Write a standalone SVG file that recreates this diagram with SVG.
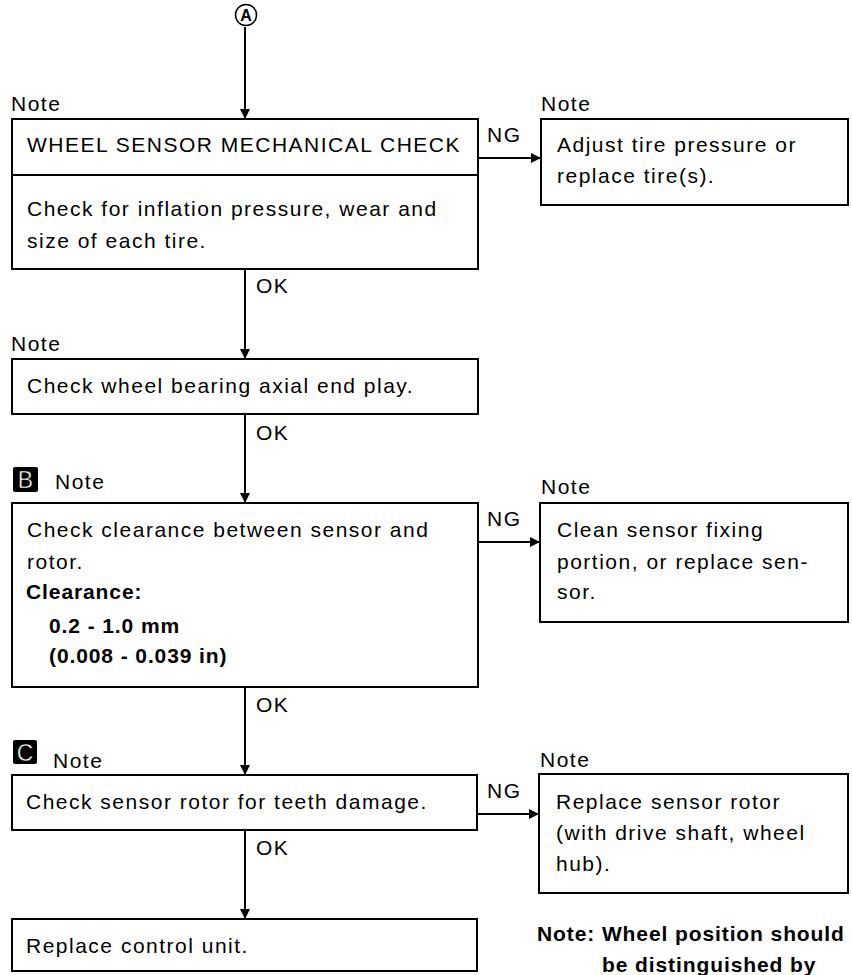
<svg xmlns="http://www.w3.org/2000/svg" width="852" height="975" viewBox="0 0 852 975">
<style>
.bg{fill:#fff}
.box{fill:#fff;stroke:#000;stroke-width:2}
.t{font-family:"Liberation Sans",Arial,sans-serif;font-size:21px;letter-spacing:1.5px;fill:#000}
.b{font-weight:bold;letter-spacing:0.9px}
.conn{stroke:#000;stroke-width:2;fill:none}
.badge{fill:#000}
.bt{font-family:"Liberation Sans",Arial,sans-serif;font-size:23px;fill:#fff;stroke:#000;stroke-width:0.5;text-anchor:middle}
</style>
<defs>
<marker id="ah" markerWidth="10" markerHeight="10" refX="9" refY="5" orient="auto" markerUnits="userSpaceOnUse">
<path d="M0,0 L10,5 L0,10 Z" fill="#000"/>
</marker>
</defs>
<rect class="bg" x="0" y="0" width="852" height="975"/>

<g id="connectors">
<path class="conn" d="M245,27 V118" marker-end="url(#ah)"/>
<path class="conn" d="M245,269 V358" marker-end="url(#ah)"/>
<path class="conn" d="M245,414 V502" marker-end="url(#ah)"/>
<path class="conn" d="M245,687 V774" marker-end="url(#ah)"/>
<path class="conn" d="M245,830 V918" marker-end="url(#ah)"/>
<path class="conn" d="M478,158 H540" marker-end="url(#ah)"/>
<path class="conn" d="M478,542 H539" marker-end="url(#ah)"/>
<path class="conn" d="M477,814 H538" marker-end="url(#ah)"/>
<text class="t" x="256" y="293">OK</text>
<text class="t" x="256" y="440">OK</text>
<text class="t" x="256" y="712">OK</text>
<text class="t" x="256" y="855">OK</text>
<text class="t" x="487" y="142" letter-spacing="0.5">NG</text>
<text class="t" x="487" y="526" letter-spacing="0.5">NG</text>
<text class="t" x="487" y="798" letter-spacing="0.5">NG</text>
</g>

<g id="startA">
<circle cx="246" cy="15" r="10.5" fill="#fff" stroke="#000" stroke-width="1.5"/>
<text x="246" y="21" font-family="Liberation Sans,Arial,sans-serif" font-size="16" font-weight="bold" text-anchor="middle">A</text>
</g>

<g id="n1">
<text class="t" x="11" y="111">Note</text>
<rect class="box" x="12" y="119" width="466" height="150"/>
<line x1="12" y1="175" x2="478" y2="175" stroke="#000" stroke-width="2"/>
<text class="t" x="27" y="152" letter-spacing="1.2">WHEEL SENSOR MECHANICAL CHECK</text>
<text class="t" x="27" y="216" letter-spacing="1.6">Check for inflation pressure, wear and</text>
<text class="t" x="27" y="248" letter-spacing="1.6">size of each tire.</text>
</g>

<g id="n1ng">
<text class="t" x="541" y="111">Note</text>
<rect class="box" x="541" y="119" width="307" height="86"/>
<text class="t" x="557" y="152">Adjust tire pressure or</text>
<text class="t" x="557" y="183">replace tire(s).</text>
</g>

<g id="n2">
<text class="t" x="11" y="351">Note</text>
<rect class="box" x="12" y="359" width="466" height="55"/>
<text class="t" x="27" y="393">Check wheel bearing axial end play.</text>
</g>

<g id="n3">
<rect class="badge" x="13" y="467" width="25" height="25" rx="2"/>
<text class="bt" x="25.5" y="488">B</text>
<text class="t" x="55" y="489">Note</text>
<rect class="box" x="12" y="503" width="466" height="184"/>
<text class="t" x="27" y="537">Check clearance between sensor and</text>
<text class="t" x="27" y="569">rotor.</text>
<text class="t b" x="26" y="599">Clearance:</text>
<text class="t b" x="49" y="633">0.2 - 1.0 mm</text>
<text class="t b" x="49" y="663">(0.008 - 0.039 in)</text>
</g>

<g id="n3ng">
<text class="t" x="541" y="494">Note</text>
<rect class="box" x="540" y="503" width="308" height="119"/>
<text class="t" x="557" y="537">Clean sensor fixing</text>
<text class="t" x="557" y="569">portion, or replace sen-</text>
<text class="t" x="557" y="599">sor.</text>
</g>

<g id="n4">
<rect class="badge" x="13" y="740" width="24" height="24" rx="2"/>
<text class="bt" x="25" y="761">C</text>
<text class="t" x="53" y="768">Note</text>
<rect class="box" x="12" y="775" width="465" height="55"/>
<text class="t" x="26" y="809">Check sensor rotor for teeth damage.</text>
</g>

<g id="n4ng">
<text class="t" x="540" y="767">Note</text>
<rect class="box" x="539" y="774" width="309" height="119"/>
<text class="t" x="556" y="809">Replace sensor rotor</text>
<text class="t" x="556" y="840">(with drive shaft, wheel</text>
<text class="t" x="556" y="871">hub).</text>
</g>

<g id="n5">
<rect class="box" x="12" y="919" width="465" height="52"/>
<text class="t" x="26" y="953">Replace control unit.</text>
</g>

<g id="note">
<text class="t b" x="537" y="941" letter-spacing="0.5">Note: Wheel position should</text>
<text class="t b" x="602" y="972" letter-spacing="0.5">be distinguished by</text>
</g>
</svg>
